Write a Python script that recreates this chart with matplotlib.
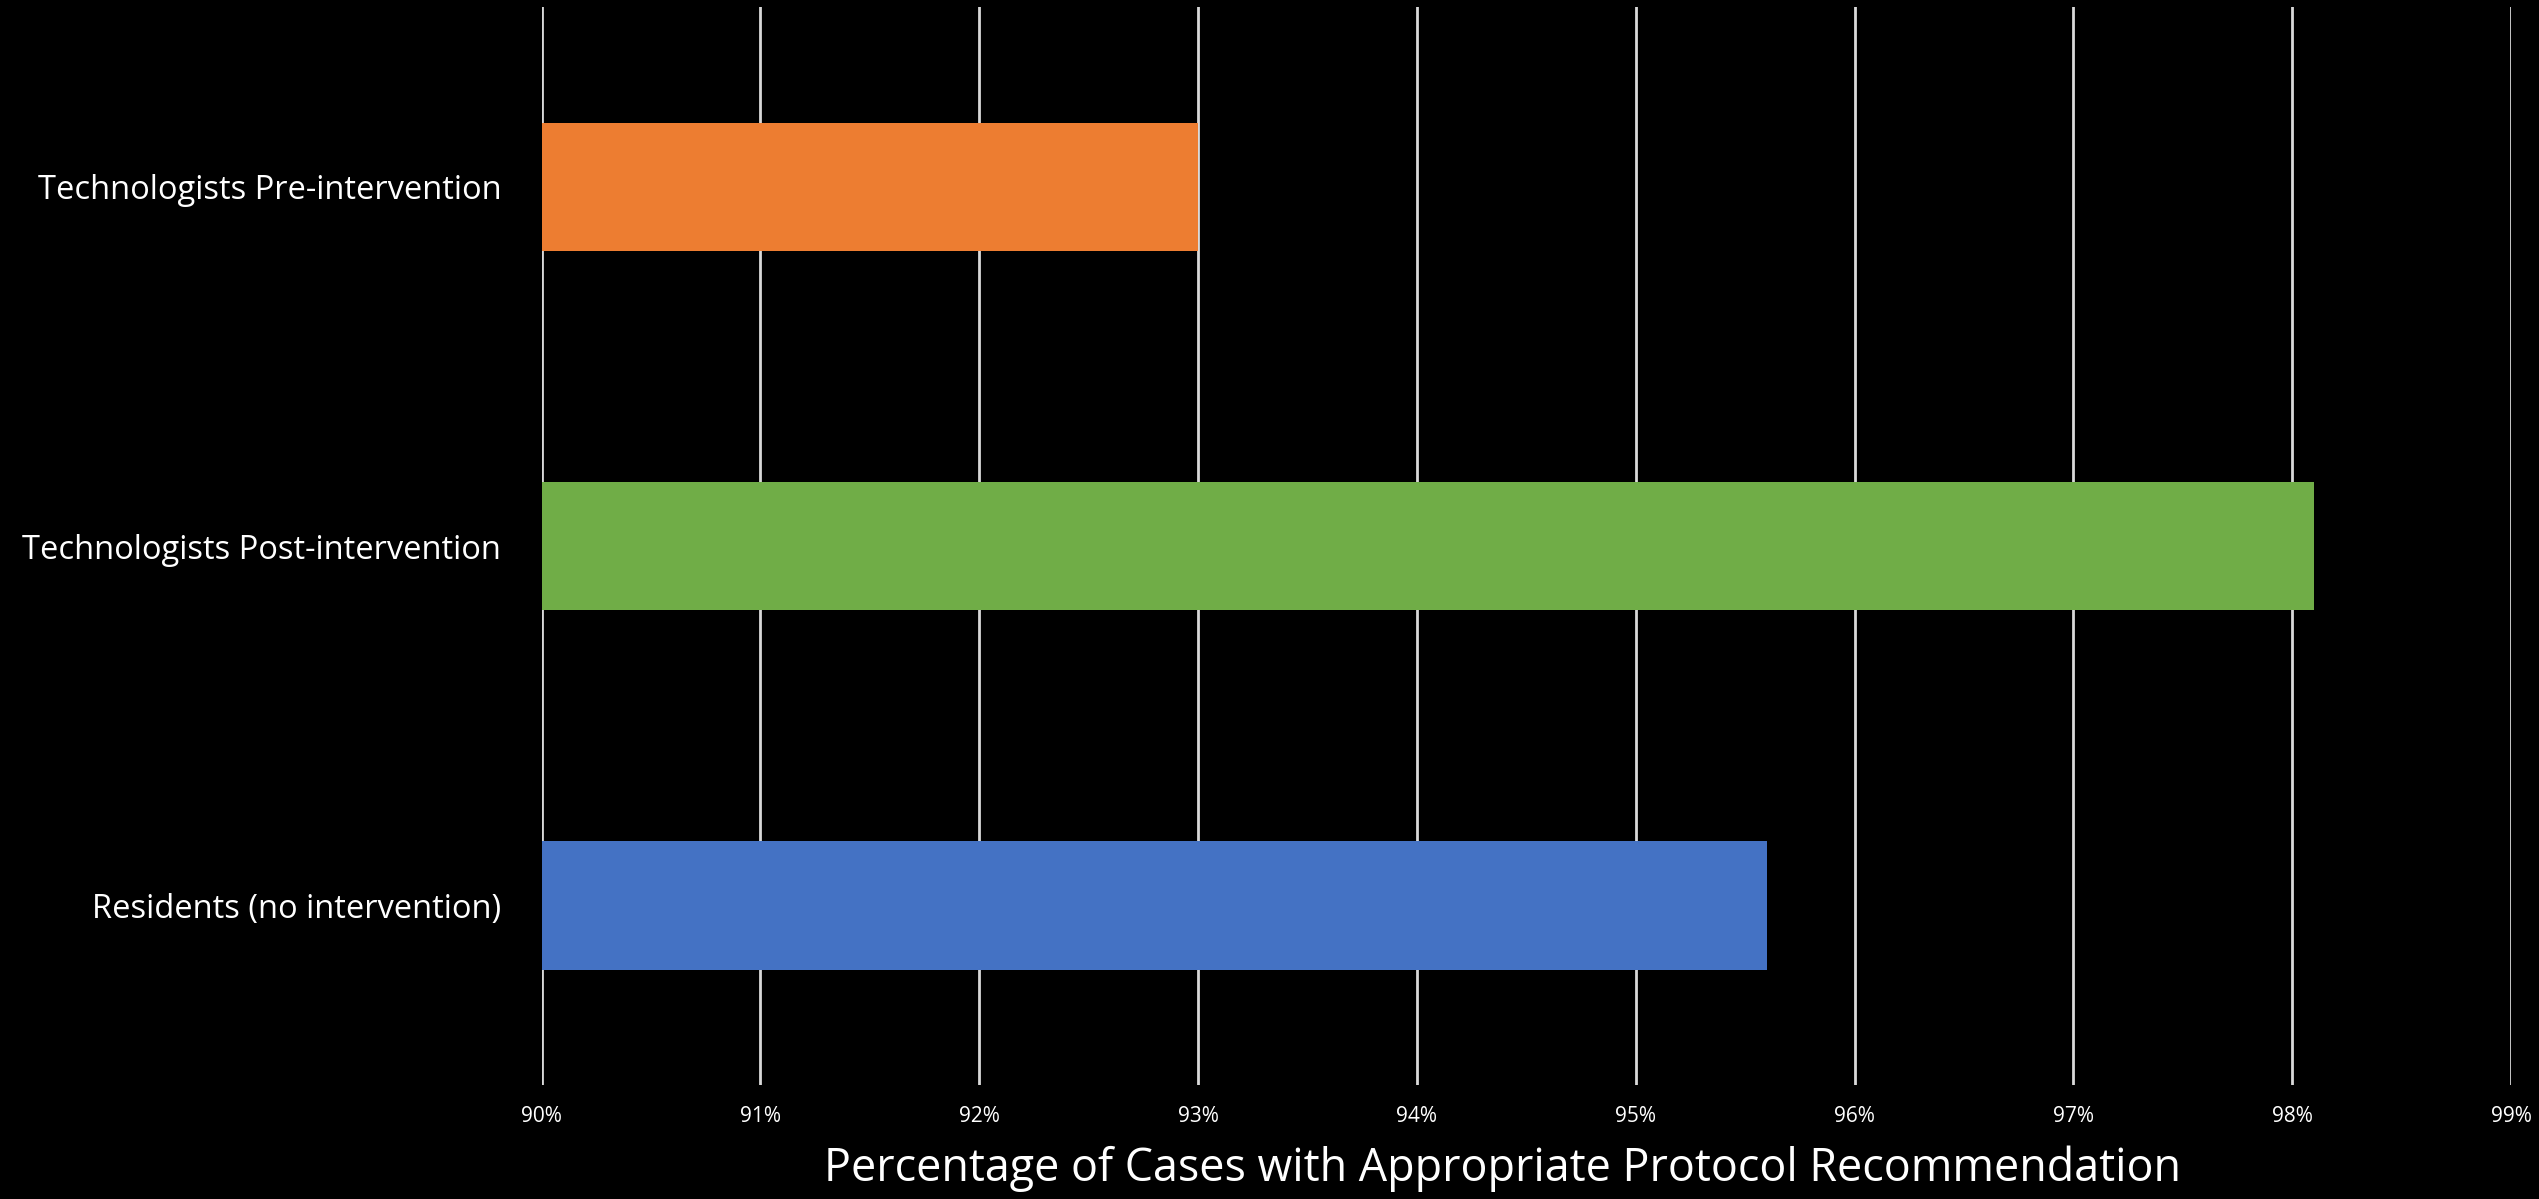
import matplotlib.pyplot as plt
from matplotlib.ticker import FuncFormatter, MultipleLocator

categories = ["Technologists Pre-intervention", "Technologists Post-intervention", "Residents (no intervention)"]
values = [93.0, 98.1, 95.6]
colors = ["#ED7D31", "#70AD47", "#4472C4"]
x_min, x_max = 90, 99
xlabel = "Percentage of Cases with Appropriate Protocol Recommendation"

plt.rcParams["font.family"] = ["Open Sans", "DejaVu Sans"]

fig = plt.figure(figsize=(25.39, 11.99), dpi=100, facecolor="black")
ax = fig.add_axes([0.2133, 0.095, 0.7757, 0.899])
ax.set_facecolor("black")

y = list(range(len(categories)))
ax.barh(y, values, height=0.357, color=colors, zorder=3)
ax.set_xlim(x_min, x_max)
ax.set_ylim(len(categories) - 0.5, -0.5)

ax.set_yticks(y)
ax.set_yticklabels(categories, fontsize=23.5, color="white")
ax.xaxis.set_major_locator(MultipleLocator(1))
ax.xaxis.set_major_formatter(FuncFormatter(lambda v, p: f"{v:.0f}%"))
ax.tick_params(axis="x", length=0, labelsize=15, labelcolor="white", pad=15)
ax.tick_params(axis="y", length=0, pad=29)

ax.grid(axis="x", color="#D9D9D9", linewidth=2, zorder=0)
ax.grid(axis="y", visible=False)
for s in ax.spines.values():
    s.set_visible(False)

ax.set_xlabel(xlabel, fontsize=32.3, color="white")
ax.xaxis.set_label_coords(0.4877, -0.078)
ax.xaxis.label.set_va("center")

fig.savefig("out.png", dpi=100, facecolor="black")
